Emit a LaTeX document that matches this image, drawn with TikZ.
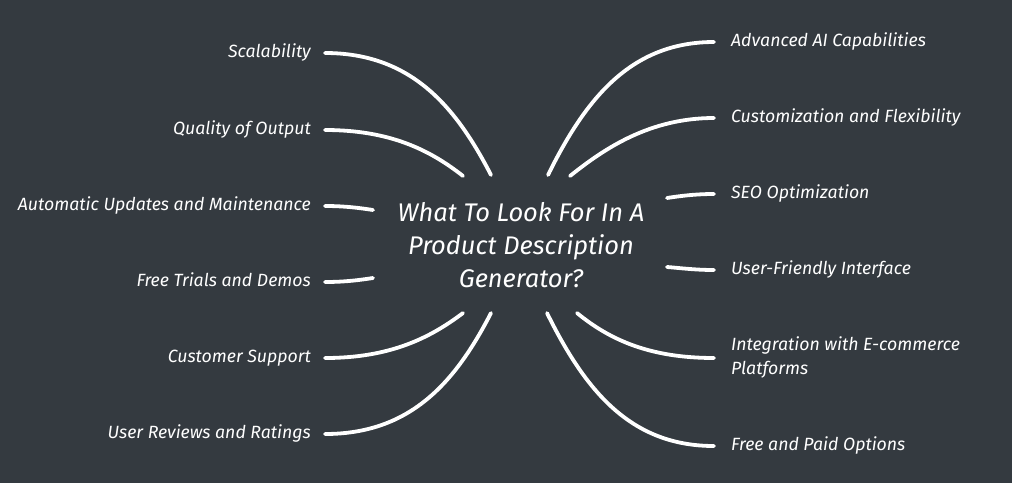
\documentclass[tikz,border=0pt]{standalone}
\usepackage{fontspec}
\setmainfont{Fira Sans}
\definecolor{bgcol}{RGB}{52,58,64}
\tikzset{
  labbase/.style={text=white,font=\itshape\fontsize{17.7}{24}\selectfont,inner ysep=0pt},
  lab/.style={labbase,text height=1.0em,text depth=0.2em},
  llab/.style={lab,anchor=east,align=right,inner xsep=14pt},
  rlab/.style={lab,anchor=west,align=left,inner xsep=17pt},
  conn/.style={draw=white,line width=3.8pt,line cap=round},
  ttl/.style={text=white,font=\itshape\fontsize{25.5}{33}\selectfont,align=center}
}
\begin{document}
\begin{tikzpicture}[x=1pt,y=-1pt]
\fill[bgcol] (0,0) rectangle (1012,483);
\useasboundingbox (0,0) rectangle (1012,483);
% title
\node[ttl] (title) at (521,245) {What To Look For In A\\Product Description\\Generator?};
% left labels
\node[llab] (l1) at (325,53) {Scalability};
\node[llab] (l2) at (325,130) {Quality of Output};
\node[llab] (l3) at (325,206) {Automatic Updates and Maintenance};
\node[llab] (l4) at (325,282) {Free Trials and Demos};
\node[llab] (l5) at (325,358) {Customer Support};
\node[llab] (l6) at (325,434) {User Reviews and Ratings};
% right labels
\node[rlab] (r1) at (714,42) {Advanced AI Capabilities};
\node[rlab] (r2) at (714,118) {Customization and Flexibility};
\node[rlab] (r3) at (714,194) {SEO Optimization};
\node[rlab] (r4) at (714,270) {User-Friendly Interface};
\node[labbase,anchor=north west,align=left,inner xsep=17pt] (r5) at (714,336) {Integration with E-commerce\\Platforms};
\node[rlab] (r6) at (714,446) {Free and Paid Options};
% free ends
\coordinate (e1) at (491,175);
\coordinate (e2) at (463,176);
\coordinate (e3) at (373,210);
\coordinate (e4) at (373,278);
\coordinate (e5) at (463,313);
\coordinate (e6) at (491,313);
\coordinate (f1) at (548,175);
\coordinate (f2) at (570,176);
\coordinate (f3) at (667,198);
\coordinate (f4) at (667,267);
\coordinate (f5) at (577,313);
\coordinate (f6) at (547,313);
\coordinate (s5) at (r5.north west |- 0,358);
% connectors left
\draw[conn] (l1.east) .. controls (410,53) and (455,105) .. (e1);
\draw[conn] (l2.east) .. controls (390,130) and (430,150) .. (e2);
\draw[conn] (l3.east) .. controls (345,206) and (360,208) .. (e3);
\draw[conn] (l4.east) .. controls (345,282) and (360,280) .. (e4);
\draw[conn] (l5.east) .. controls (390,358) and (430,338) .. (e5);
\draw[conn] (l6.east) .. controls (410,434) and (455,383) .. (e6);
% connectors right
\draw[conn] (r1.west) .. controls (630,42) and (585,100) .. (f1);
\draw[conn] (r2.west) .. controls (650,118) and (605,148) .. (f2);
\draw[conn] (r3.west) .. controls (695,194) and (680,196) .. (f3);
\draw[conn] (r4.west) .. controls (695,270) and (680,268) .. (f4);
\draw[conn] (s5) .. controls (650,358) and (610,340) .. (f5);
\draw[conn] (r6.west) .. controls (630,446) and (585,390) .. (f6);
\end{tikzpicture}
\end{document}
